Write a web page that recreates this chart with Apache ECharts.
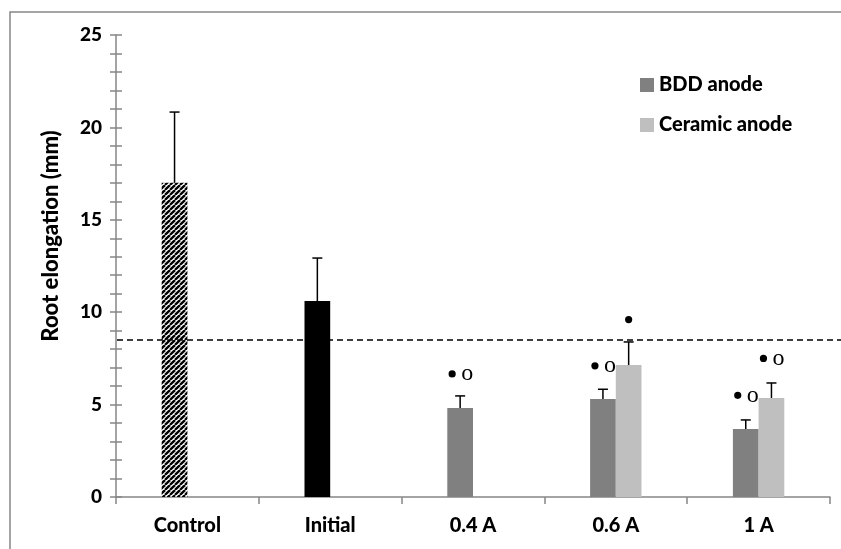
<!DOCTYPE html>
<html>
<head>
<meta charset="utf-8">
<script src="https://cdn.jsdelivr.net/npm/echarts@6/dist/echarts.min.js"></script>
<style>
  html, body { margin: 0; padding: 0; background: #fff; }
  #chart { width: 841px; height: 549px; }
</style>
</head>
<body>
<div id="chart"></div>
<script>
// Treatments along the x axis
const categories = ['Control', 'Initial', '0.4 A', '0.6 A', '1 A'];

// Root elongation (mm) and the upper standard deviation
const bddValues = [17.0, 10.6, 4.82, 5.30, 3.68];
const bddErrors = [3.83, 2.33, 0.65, 0.53, 0.49];
const ceramicValues = [null, null, null, 7.14, 5.36];
const ceramicErrors = [null, null, null, 1.25, 0.81];

// Significance symbols: filled dot and open circle, and the level they are written at
const bddDots = [false, false, true, true, true];
const bddRings = [false, false, true, true, true];
const bddMarkLevels = [null, null, 6.66, 7.1, 5.5];
const ceramicDots = [false, false, false, true, true];
const ceramicRings = [false, false, false, false, true];
const ceramicMarkLevels = [null, null, null, 9.6, 7.5];

// Value axis ticks and the reference level
const yTicks = [0, 5, 10, 15, 20, 25];
const threshold = 8.5;

const FONT = 'Lato';
const AXIS_GREY = '#868686';

// Diagonal hatch fill for the control bar
function makeHatch() {
  const s = 5;
  const c = document.createElement('canvas');
  c.width = s; c.height = s;
  const g = c.getContext('2d');
  g.fillStyle = '#fff';
  g.fillRect(0, 0, s, s);
  g.strokeStyle = '#000';
  g.lineWidth = 2.3;
  for (let k = -1; k <= 1; k++) {
    g.beginPath();
    g.moveTo(k * s, s);
    g.lineTo(k * s + s, 0);
    g.stroke();
  }
  return c;
}
const hatch = { image: makeHatch(), repeat: 'repeat' };

const chart = echarts.init(document.getElementById('chart'), null, { renderer: 'canvas' });

// Bars sit side by side in each category; offset of a bar centre as a share of the band
const BAR_SHARE = 0.09;

function errorBars(values, errors, sign) {
  const items = [];
  values.forEach((v, i) => { if (v != null) items.push([i, v, errors[i]]); });
  return {
    type: 'custom',
    z: 5,
    silent: true,
    data: items,
    renderItem: function (params, api) {
      const idx = api.value(0);
      const base = api.coord([idx, api.value(1)]);
      const top = api.coord([idx, api.value(1) + api.value(2)]);
      const band = api.size([1, 0])[0];
      const x = base[0] + sign * band * BAR_SHARE;
      const st = { stroke: '#000', lineWidth: 1.5 };
      return {
        type: 'group',
        children: [
          { type: 'line', shape: { x1: x, y1: base[1], x2: x, y2: top[1] }, style: st },
          { type: 'line', shape: { x1: x - 5, y1: top[1], x2: x + 5, y2: top[1] }, style: st }
        ]
      };
    }
  };
}

function markSymbols(dots, rings, levels, sign) {
  const items = [];
  levels.forEach((lv, i) => { if (lv != null) items.push({ value: [i, lv], dot: dots[i], ring: rings[i] }); });
  return {
    type: 'custom',
    z: 6,
    silent: true,
    data: items.map(d => d.value),
    renderItem: function (params, api) {
      const it = items[params.dataIndex];
      const p = api.coord([api.value(0), api.value(1)]);
      const band = api.size([1, 0])[0];
      const cx = p[0] + sign * band * BAR_SHARE;
      const children = [];
      if (it.dot && it.ring) {
        children.push({ type: 'circle', shape: { cx: cx - 8, cy: p[1], r: 3.6 }, style: { fill: '#000' } });
        children.push({ type: 'text', x: cx + 7, y: p[1], style: { text: 'o', fill: '#000', font: '24px "Liberation Serif"', align: 'center', verticalAlign: 'middle' } });
      } else if (it.dot) {
        children.push({ type: 'circle', shape: { cx: cx, cy: p[1], r: 3.6 }, style: { fill: '#000' } });
      }
      return { type: 'group', children: children };
    }
  };
}

const tickStyle = { color: AXIS_GREY, width: 1.5 };

const option = {
  animation: false,
  backgroundColor: '#fff',
  grid: { left: 116, right: 11, top: 35, bottom: 52, containLabel: false },
  legend: {
    data: ['BDD anode', 'Ceramic anode'],
    orient: 'vertical',
    left: 635,
    top: 70,
    icon: 'rect',
    itemWidth: 14,
    itemHeight: 14,
    itemGap: 20,
    textStyle: { fontFamily: FONT, fontWeight: 900, fontSize: 20, color: '#000' }
  },
  xAxis: {
    type: 'category',
    data: categories,
    boundaryGap: true,
    axisLine: { show: true, lineStyle: tickStyle },
    axisTick: { show: true, length: 7, alignWithLabel: false, lineStyle: tickStyle },
    axisLabel: { fontFamily: FONT, fontWeight: 900, fontSize: 20, color: '#000', margin: 19 },
    splitLine: { show: false }
  },
  yAxis: [
    {
      type: 'value',
      min: yTicks[0],
      max: yTicks[yTicks.length - 1],
      interval: yTicks[1] - yTicks[0],
      name: 'Root elongation (mm)',
      nameLocation: 'middle',
      nameGap: 54,
      nameTextStyle: { fontFamily: FONT, fontWeight: 900, fontSize: 22, color: '#000', padding: [0, 0, 0, 60] },
      axisLine: { show: true, lineStyle: tickStyle },
      axisTick: { show: true, length: 6, lineStyle: tickStyle },
      minorTick: { show: true, splitNumber: 5, length: 6, lineStyle: tickStyle },
      axisLabel: { fontFamily: FONT, fontWeight: 900, fontSize: 19, color: '#000', margin: 14 },
      splitLine: { show: false }
    },
    {
      // inner half of the crossing tick marks
      type: 'value',
      position: 'left',
      min: yTicks[0],
      max: yTicks[yTicks.length - 1],
      interval: yTicks[1] - yTicks[0],
      axisLine: { show: false },
      axisTick: { show: true, inside: true, length: 6, lineStyle: tickStyle },
      minorTick: { show: true, splitNumber: 5, length: 6, lineStyle: tickStyle },
      axisLabel: { show: false },
      splitLine: { show: false }
    }
  ],
  series: [
    {
      type: 'bar',
      name: 'BDD anode',
      itemStyle: { color: '#808080' },
      barGap: '0%',
      barCategoryGap: '64%',
      data: bddValues.map((v, i) => {
        if (i === 0) return { value: v, itemStyle: { color: hatch } };
        if (i === 1) return { value: v, itemStyle: { color: '#000' } };
        return v;
      })
    },
    {
      type: 'bar',
      name: 'Ceramic anode',
      itemStyle: { color: '#BFBFBF' },
      barGap: '0%',
      barCategoryGap: '64%',
      data: ceramicValues
    },
    errorBars(bddValues, bddErrors, -1),
    errorBars(ceramicValues, ceramicErrors, 1),
    markSymbols(bddDots, bddRings, bddMarkLevels, -1),
    markSymbols(ceramicDots, ceramicRings, ceramicMarkLevels, 1)
  ]
};

chart.setOption(option);

// Dashed reference level across the plot and the outer frame
const yRef = chart.convertToPixel({ yAxisIndex: 0 }, threshold);
const step = chart.convertToPixel({ xAxisIndex: 0 }, 1) - chart.convertToPixel({ xAxisIndex: 0 }, 0);
const x0 = chart.convertToPixel({ xAxisIndex: 0 }, 0) - step / 2;
chart.setOption({
  graphic: [
    {
      type: 'line',
      z: 4,
      shape: { x1: x0 + 1, y1: yRef, x2: 841, y2: yRef },
      style: { stroke: '#000', lineWidth: 1.5, lineDash: [6, 4] }
    },
    {
      type: 'rect',
      shape: { x: 10, y: 12, width: 900, height: 600 },
      style: { fill: 'none', stroke: AXIS_GREY, lineWidth: 1.5 }
    }
  ]
});
</script>
</body>
</html>
